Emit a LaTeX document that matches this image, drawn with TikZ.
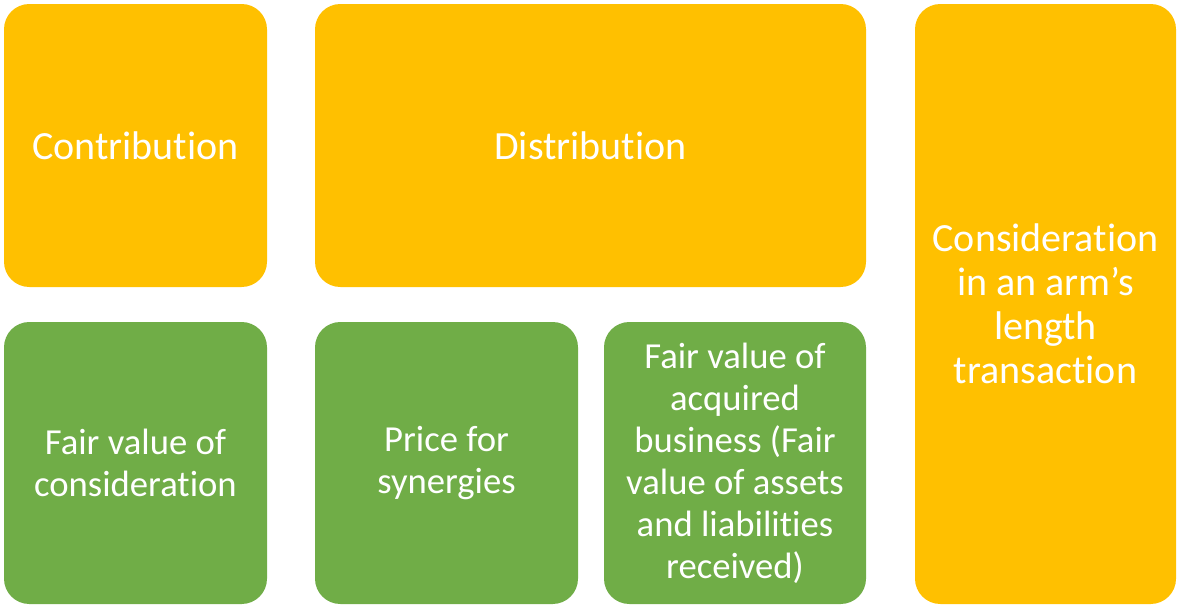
\documentclass[tikz,border=0pt]{standalone}
\usepackage{fontspec}
\setmainfont{Carlito}[Ligatures=NoCommon]
\usepackage{tikz}
\definecolor{gold}{RGB}{255,192,0}
\definecolor{leaf}{RGB}{112,173,71}

\begin{document}
\begin{tikzpicture}[x=0.75pt, y=-0.75pt,
  card/.style={rounded corners=19pt, inner sep=0pt, align=center, text=white},
  goldcard/.style={card, fill=gold, font=\fontsize{30}{33}\selectfont},
  leafcard/.style={card, fill=leaf, font=\fontsize{27.5}{31.5}\selectfont}]
\useasboundingbox (0,0) rectangle (1178,607);

% Top row
\node[goldcard, minimum width=197.25pt, minimum height=212.25pt] (contrib) at (135.5,145.5) {Contribution};
\node[goldcard, minimum width=413.25pt, minimum height=212.25pt] (distrib) at (590.5,145.5) {Distribution};

% Right column
\node[goldcard, minimum width=195.75pt, minimum height=450pt] (arms) at (1045.5,304) {Consideration\\in an arm’s\\length\\transaction};

% Bottom row
\node[leafcard, minimum width=197.25pt, minimum height=211.5pt] (fvcons) at (135.5,463) {Fair value of\\consideration};
\node[leafcard, minimum width=197.25pt, minimum height=211.5pt] (synergy) at (446.5,463) {Price for\\synergies};
\node[leafcard, minimum width=196.5pt, minimum height=211.5pt] (acquired) at (735,463) {Fair value of\\acquired\\business (Fair\\value of assets\\and liabilities\\received)};
\end{tikzpicture}
\end{document}
